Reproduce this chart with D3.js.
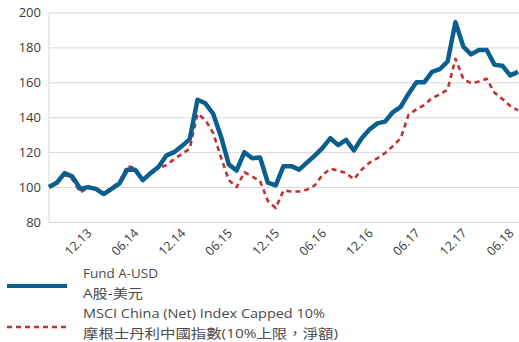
<!DOCTYPE html>
<html>
<head>
<meta charset="utf-8">
<script src="https://cdn.jsdelivr.net/npm/d3@7"></script>
<style>
  html, body { margin: 0; padding: 0; background: #fff; }
  svg { display: block; }
  .tick text { font-family: "Open Sans", "Noto Sans", sans-serif; }
</style>
</head>
<body>
<svg id="chart" width="519" height="342"></svg>
<script>
// Monthly observations, indexed to 100 at the start
const months = ("2013-09 2013-10 2013-11 2013-12 2014-01 2014-02 2014-03 2014-04 2014-05 2014-06 " +
  "2014-07 2014-08 2014-09 2014-10 2014-11 2014-12 2015-01 2015-02 2015-03 2015-04 " +
  "2015-05 2015-06 2015-07 2015-08 2015-09 2015-10 2015-11 2015-12 2016-01 2016-02 " +
  "2016-03 2016-04 2016-05 2016-06 2016-07 2016-08 2016-09 2016-10 2016-11 2016-12 " +
  "2017-01 2017-02 2017-03 2017-04 2017-05 2017-06 2017-07 2017-08 2017-09 2017-10 " +
  "2017-11 2017-12 2018-01 2018-02 2018-03 2018-04 2018-05 2018-06 2018-07 2018-08 2018-09").split(" ");

const fundValues = [
  100, 102.5, 108, 106, 99, 100, 99, 96, 99, 102,
  110, 110, 104, 108, 111.5, 118, 120, 123.5, 127.5, 150,
  148, 142, 129, 113, 109.5, 120, 116.5, 117, 102.5, 101,
  112, 112, 110, 114, 118, 122.5, 128, 124, 127, 121,
  128, 133, 136.5, 137.5, 143, 146, 153.5, 160, 160, 166,
  167.5, 172, 194.5, 180.5, 176, 178.5, 178.5, 170, 169.5, 164, 166
];

const indexValues = [
  100, 102.5, 107, 104.5, 97, 99.5, 98.5, 96.5, 99.5, 103,
  112, 111, 104, 108.5, 111, 112.5, 116, 119, 122, 142,
  138.5, 131, 117, 104, 100, 108.5, 106, 103.5, 92, 88,
  98, 97.5, 97.5, 98.5, 101, 107, 110.5, 109.5, 108, 104.5,
  110, 114, 116.5, 119.5, 123.5, 128, 141.5, 144.5, 147, 151,
  153, 156, 173.5, 162, 159.5, 160.5, 162, 154, 150.5, 146.5, 144
];

const yTicks = [80, 100, 120, 140, 160, 180, 200];
const xTickMonths = ["2013-12", "2014-06", "2014-12", "2015-06", "2015-12",
                     "2016-06", "2016-12", "2017-06", "2017-12", "2018-06"];
const xTickLabels = ["12.13", "06.14", "12.14", "06.15", "12.15",
                     "06.16", "12.16", "06.17", "12.17", "06.18"];

const seriesNames = ["Fund A-USD", "MSCI China (Net) Index Capped 10%"];
const seriesNamesZh = ["A股-美元", "摩根士丹利中國指數(10%上限，淨額)"];

const svg = d3.select("#chart");
const plot = { left: 49, right: 518, top: 12.5, bottom: 222 };

const x = d3.scalePoint().domain(months).range([plot.left, plot.right]);
const y = d3.scaleLinear().domain([80, 200]).range([plot.bottom, plot.top]);

const gridColor = "#d9d6d3";
const textColor = "#3a3a3a";

// Horizontal gridlines with value labels
const yAxis = svg.append("g")
  .attr("transform", `translate(${plot.left},0)`)
  .call(d3.axisLeft(y).tickValues(yTicks).tickSize(-(519 - plot.left)).tickPadding(8));
yAxis.select(".domain").remove();
yAxis.selectAll(".tick line").attr("stroke", gridColor).attr("stroke-width", 1);
yAxis.selectAll(".tick text")
  .attr("fill", textColor)
  .style("font-size", "13px");

// Vertical axis line
svg.append("line")
  .attr("x1", plot.left).attr("x2", plot.left)
  .attr("y1", y(200)).attr("y2", y(80))
  .attr("stroke", gridColor).attr("stroke-width", 1);

// Rotated month labels
const xLab = svg.append("g");
xTickMonths.forEach((m, i) => {
  xLab.append("text")
    .attr("transform", `translate(${x(m) + 20},${plot.bottom + 12}) rotate(-45)`)
    .attr("text-anchor", "end")
    .attr("fill", textColor)
    .style("font-family", "'Open Sans', 'Noto Sans', sans-serif")
    .style("font-size", "12.5px")
    .text(xTickLabels[i]);
});

// Series lines
const line = d3.line()
  .x((d, i) => x(months[i]))
  .y(d => y(d));

svg.append("path")
  .datum(indexValues)
  .attr("fill", "none")
  .attr("stroke", "#c0322e")
  .attr("stroke-width", 2.6)
  .attr("stroke-dasharray", "5,4")
  .attr("stroke-linejoin", "round")
  .attr("d", line);

svg.append("path")
  .datum(fundValues)
  .attr("fill", "none")
  .attr("stroke", "#0a5f8e")
  .attr("stroke-width", 4.5)
  .attr("stroke-linejoin", "round")
  .attr("d", line);

// Legend
const legend = svg.append("g");
const legendFont = "'Open Sans', 'Noto Sans CJK TC', sans-serif";

legend.append("line")
  .attr("x1", 7).attr("x2", 67).attr("y1", 286).attr("y2", 286)
  .attr("stroke", "#0a5f8e").attr("stroke-width", 4);
legend.append("line")
  .attr("x1", 7).attr("x2", 67).attr("y1", 327).attr("y2", 327)
  .attr("stroke", "#c0322e").attr("stroke-width", 2.5)
  .attr("stroke-dasharray", "5,4");

const legendRows = [
  { text: seriesNames[0], y: 278, len: 75 },
  { text: seriesNamesZh[0], y: 298, len: 60 },
  { text: seriesNames[1], y: 318, len: 242 },
  { text: seriesNamesZh[1], y: 338, len: 255 }
];
legendRows.forEach(r => {
  legend.append("text")
    .attr("x", 83).attr("y", r.y)
    .attr("fill", "#4a4a4a")
    .style("font-family", legendFont)
    .style("font-size", "13px")
    .attr("textLength", r.len)
    .attr("lengthAdjust", "spacingAndGlyphs")
    .text(r.text);
});
</script>
</body>
</html>
